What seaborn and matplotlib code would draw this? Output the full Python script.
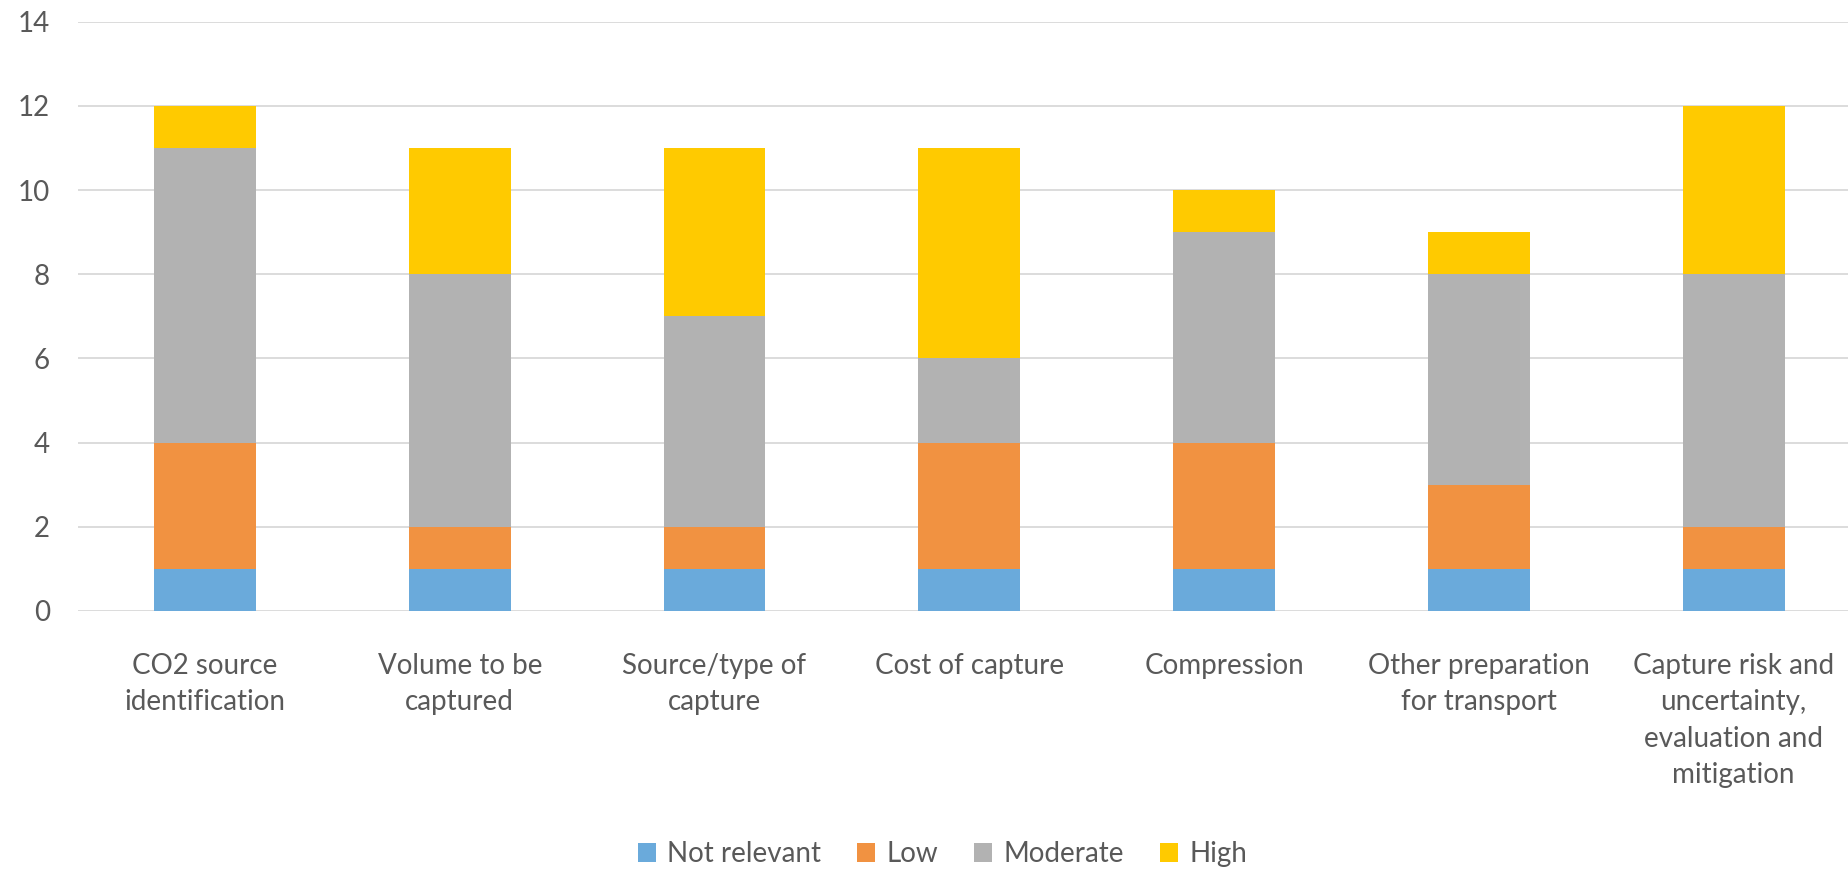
import numpy as np
import matplotlib
matplotlib.use("Agg")
import matplotlib.pyplot as plt
import seaborn as sns

categories = ["CO2 source\nidentification", "Volume to be\ncaptured", "Source/type of\ncapture",
              "Cost of capture", "Compression", "Other preparation\nfor transport",
              "Capture risk and\nuncertainty,\nevaluation and\nmitigation"]
not_relevant = [1, 1, 1, 1, 1, 1, 1]
low = [3, 1, 1, 3, 3, 2, 1]
moderate = [7, 6, 5, 2, 5, 5, 6]
high = [1, 3, 4, 5, 1, 1, 4]

series = [("Not relevant", not_relevant, "#6AAADB"),
          ("Low", low, "#F19241"),
          ("Moderate", moderate, "#B2B2B2"),
          ("High", high, "#FFCA00")]

sns.set_style("white")
plt.rcParams["font.family"] = ["Lato", "DejaVu Sans"]
text_col = "#595959"
fs = 20

fig, ax = plt.subplots(figsize=(18.48, 8.69), dpi=100)
fig.subplots_adjust(left=0.042, right=1.007, top=0.975, bottom=0.297)

bottom = np.zeros(len(categories))
for name, vals, col in series:
    sns.barplot(x=categories, y=vals, bottom=bottom, color=col, width=0.4, saturation=1,
                linewidth=0, label=name, ax=ax, zorder=3)
    bottom = bottom + np.array(vals)

ax.set_ylim(0, 14)
ax.set_yticks(range(0, 15, 2))
ax.set_xlim(-0.5, len(categories) - 0.5)
ax.grid(axis="y", color="#D9D9D9", linewidth=1.3, zorder=0)
ax.grid(axis="x", visible=False)
for s in ax.spines.values():
    s.set_visible(False)
ax.tick_params(axis="y", length=0, pad=20, labelsize=fs, labelcolor=text_col)
ax.tick_params(axis="x", length=0, pad=30, labelsize=fs, labelcolor=text_col)
for lbl in ax.get_xticklabels():
    lbl.set_linespacing(1.5)
ax.set_xlabel("")
ax.set_ylabel("")

if ax.legend_:
    ax.legend_.remove()
handles, labels = ax.get_legend_handles_labels()
fig.legend(handles, labels, loc="lower center", bbox_to_anchor=(0.51, -0.027), ncol=4,
           frameon=False, fontsize=fs, labelcolor=text_col, handlelength=0.65,
           handleheight=0.65, handletextpad=0.4, columnspacing=1.3)

fig.savefig("out.png", dpi=100)
